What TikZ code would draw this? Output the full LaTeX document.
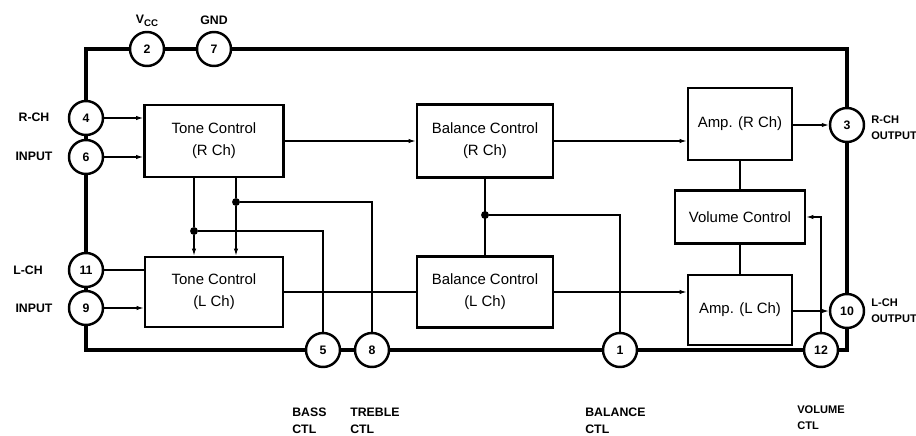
\documentclass[tikz,border=0pt]{standalone}
\usepackage{fontspec}
\setmainfont{Liberation Sans}
\usetikzlibrary{arrows.meta,positioning,calc}

\begin{document}
\begin{tikzpicture}[x=0.02cm,y=-0.02cm,
  pin/.style={circle,draw,line width=1.4pt,minimum size=0.68cm,inner sep=0pt,
              fill=white,font=\fontsize{7}{8}\selectfont\bfseries},
  blk/.style={draw,line width=1.6pt,inner sep=0pt,align=center,
              font=\fontsize{8.5}{12.5}\selectfont},
  tag/.style={font=\fontsize{7}{9.5}\selectfont\bfseries,align=left,inner sep=0pt},
  frame/.style={line width=2.2pt},
  sig/.style={line width=0.6pt},
  sigto/.style={sig,-{Latex[length=4pt,width=2.5pt]}},
  jn/.style={circle,fill,inner sep=0pt,minimum size=4.5pt}
]
\useasboundingbox (0,0) rectangle (916,436);

% ---- Pins ---------------------------------------------------
\node[pin] (p2)  at (147,49)  {2};
\node[pin] (p7)  at (214,49)  {7};
\node[pin] (p4)  at (86,118)  {4};
\node[pin] (p6)  at (86,157)  {6};
\node[pin] (p11) at (86,270)  {11};
\node[pin] (p9)  at (86,308)  {9};
\node[pin] (p5)  at (323,350) {5};
\node[pin] (p8)  at (372,350) {8};
\node[pin] (p1)  at (620,350) {1};
\node[pin] (p12) at (821,350) {12};
\node[pin] (p10) at (847,311) {10};
\node[pin] (p3)  at (847,125) {3};

% ---- Blocks -------------------------------------------------
\node[blk,minimum width=2.78cm,minimum height=1.44cm] (toneR) at (214,141)
  {Tone Control\\(R Ch)};
\node[blk,minimum width=2.76cm,minimum height=1.40cm] (toneL) at (214,292)
  {Tone Control\\(L Ch)};
\node[blk,minimum width=2.72cm,minimum height=1.46cm] (balR) at (485,141)
  {Balance Control\\(R Ch)};
\node[blk,minimum width=2.72cm,minimum height=1.42cm] (balL) at (485,292)
  {Balance Control\\(L Ch)};
\node[blk,minimum width=2.08cm,minimum height=1.44cm] (ampR) at (740,124)
  {Amp. (R Ch)};
\node[blk,minimum width=2.60cm,minimum height=1.06cm] (vol) at (740,217)
  {Volume Control};
\node[blk,minimum width=2.08cm,minimum height=1.40cm] (ampL) at (740,310)
  {Amp. (L Ch)};

% ---- Package outline ----------------------------------------
\draw[frame] (p4.north) |- (p2.west);
\draw[frame] (p2.east) -- (p7.west);
\draw[frame] (p7.east) -| (p3.north);
\draw[frame] (p3.south) -- (p10.north);
\draw[frame] (p10.south) |- (p12.east);
\draw[frame] (p12.west) -- (p1.east);
\draw[frame] (p1.west) -- (p8.east);
\draw[frame] (p8.west) -- (p5.east);
\draw[frame] (p5.west) -| (p9.south);
\draw[frame] (p9.north) -- (p11.south);
\draw[frame] (p11.north) -- (p6.south);
\draw[frame] (p6.north) -- (p4.south);

% ---- Signal path --------------------------------------------
\draw[sigto] (p4.east) -- (p4.east -| toneR.west);
\draw[sigto] (p6.east) -- (p6.east -| toneR.west);
\draw[sig]   (p11.east) -- (p11.east -| toneL.west);
\draw[sigto] (p9.east) -- (p9.east -| toneL.west);
\draw[sigto] (toneR.east) -- (balR.west);
\draw[sig]   (toneL.east) -- (balL.west);
\draw[sigto] (balR.east) -- (balR.east -| ampR.west);
\draw[sigto] (balL.east) -- (balL.east -| ampL.west);
\draw[sigto] (ampR.east |- p3) -- (p3.west);
\draw[sigto] (ampL.east |- p10) -- (p10.west);
\draw[sig] (ampR.south) -- (vol.north);
\draw[sig] (vol.south) -- (ampL.north);

% ---- Control lines ------------------------------------------
\node[jn] (jt)   at (236,202) {};
\node[jn] (jb)   at (194,231) {};
\node[jn] (jbal) at (485,215) {};
\draw[sig]   (jt |- toneR.south) -- (jt);
\draw[sigto] (jt) -- (jt |- toneL.north);
\draw[sig]   (jb |- toneR.south) -- (jb);
\draw[sigto] (jb) -- (jb |- toneL.north);
\draw[sig] (jt) -| (p8.north);
\draw[sig] (jb) -| (p5.north);
\draw[sig] (balR.south) -- (balL.north);
\draw[sig] (jbal) -| (p1.north);
\draw[sigto] (p12.north) |- (vol.east);

% ---- Pin labels ---------------------------------------------
\node[tag] (lvcc) at (147,21) {V\raisebox{-0.4ex}{\fontsize{5.5}{6}\selectfont CC}};
\node[tag] (lgnd) at (214,20) {GND};
\node[tag] (lrin) at (34,117) {R-CH};
\node[tag] (lrin2) at (34,156) {INPUT};
\node[tag] (llin) at (28,270) {L-CH};
\node[tag] (llin2) at (34,308) {INPUT};
\node[tag,anchor=north west] (lbass) at (292,408) {BASS\\CTL};
\node[tag,anchor=north west] (ltreb) at (350,408) {TREBLE\\CTL};
\node[tag,anchor=north west] (lbal)  at (585,408) {BALANCE\\CTL};
\node[tag,anchor=north west,font=\fontsize{6.3}{9.5}\selectfont\bfseries] (lvol) at (797,405) {VOLUME\\CTL};
\node[tag,anchor=west,font=\fontsize{6.3}{9}\selectfont\bfseries] (lrout) at (871,128) {R-CH\\OUTPUT};
\node[tag,anchor=west,font=\fontsize{6.3}{9}\selectfont\bfseries] (llout) at (871,311) {L-CH\\OUTPUT};

\end{tikzpicture}
\end{document}
